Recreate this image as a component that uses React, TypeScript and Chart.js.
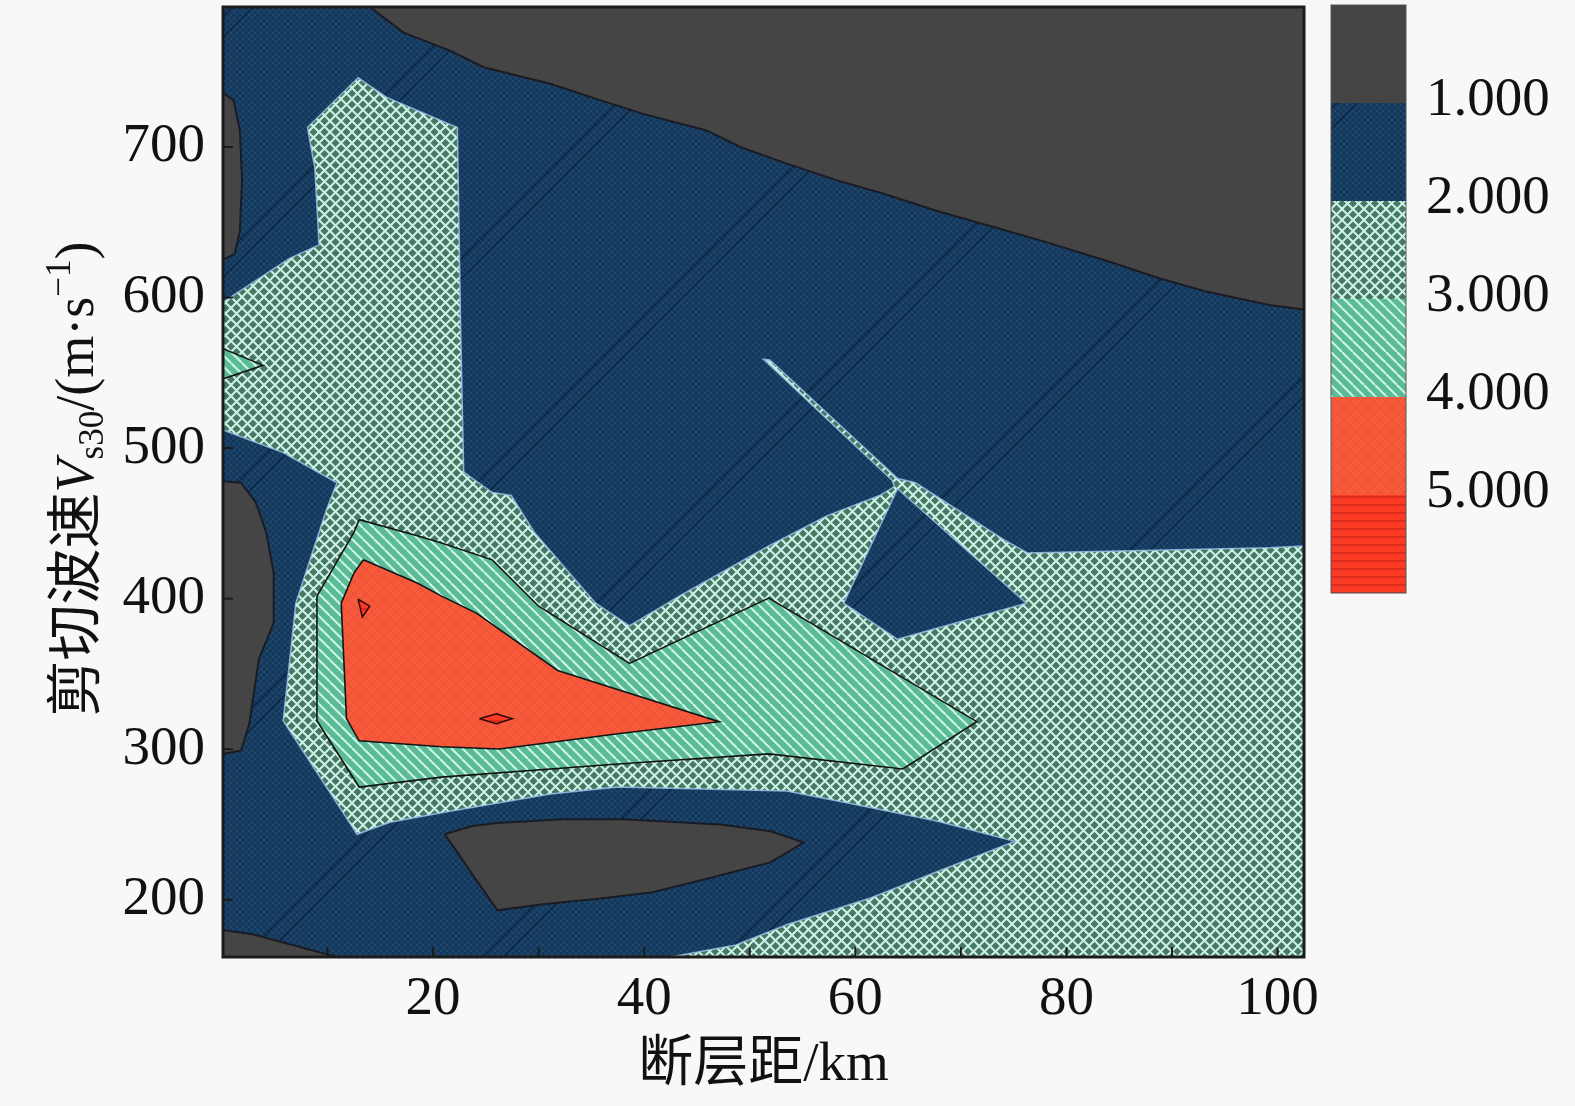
import React, { useEffect, useRef } from "react";
import { Chart, registerables } from "chart.js";

Chart.register(...registerables);

type Pt = [number, number];

// ---- axes ----
const xRange: number[] = [0.1, 102.5];
const yRange: number[] = [162, 793];
const xTickLabels: number[] = [20, 40, 60, 80, 100];
const xMinorTicks: number[] = [10, 20, 30, 40, 50, 60, 70, 80, 90, 100];
const yTickLabels: number[] = [200, 300, 400, 500, 600, 700];
const colorbarLabels: string[] = ["1.000", "2.000", "3.000", "4.000", "5.000"];
const xTitle = "断层距/km";
const yTitleParts: { t: string; k: string }[] = [
  { t: "剪切波速", k: "cjk" },
  { t: "V", k: "italic" },
  { t: "s30", k: "sub" },
  { t: "/(m·s", k: "normal" },
  { t: "−1", k: "sup" },
  { t: ")", k: "normal" },
];

// ---- contour regions (x = distance km, y = Vs30 m/s) ----
const plotFrame: Pt[] = [[0.1, 162], [0.1, 793], [102.5, 793], [102.5, 162]];
const grayTop: Pt[] = [
  [14.0, 793], [17.2, 776], [21.6, 764], [24.8, 753], [31.1, 742], [35.9, 731], [39.9, 722],
  [45.9, 711], [49.1, 700], [53.5, 689], [58.2, 678], [62.7, 669], [67.5, 658], [73.5, 646],
  [78.0, 637], [84.0, 624], [88.7, 613], [93.2, 604], [99.2, 595], [102.5, 592], [102.5, 793],
];
const grayLeftTop: Pt[] = [[0.1, 736], [1.1, 731], [1.7, 711], [1.9, 678], [1.7, 644], [1.2, 629], [0.1, 625]];
const grayLeftMid: Pt[] = [
  [0.1, 478], [1.8, 477], [3.2, 464], [4.2, 444], [4.9, 417], [4.9, 384], [3.5, 360],
  [2.6, 317], [1.8, 299], [0.1, 297],
];
const grayBottomLeft: Pt[] = [[0.1, 180], [3.0, 177], [10.9, 162], [0.1, 162]];
const grayMid: Pt[] = [
  [21.1, 243.5], [23.7, 249], [26.1, 251], [32.3, 253.5], [38.0, 253.5], [47.2, 250], [52.0, 245.5],
  [55.1, 238], [52.0, 225], [46.5, 215], [40.8, 205], [36.1, 201], [30.4, 197], [26.1, 193],
  [23.7, 217], [22.3, 231.5],
];
const crossMain: Pt[] = [
  [0.1, 597], [6.4, 626], [9.2, 635], [8.8, 686], [8.1, 713], [12.9, 746], [15.6, 733], [22.3, 713],
  [22.6, 584], [22.9, 484], [25.6, 470.5], [27.4, 468.5], [29.6, 444], [35.4, 397], [38.6, 382],
  [43.4, 402], [51.8, 435], [57.3, 455], [62.3, 468.5], [63.7, 474.5], [63.5, 478.5], [51.3, 559],
  [51.9, 558.5], [64.0, 479.8], [65.7, 477], [74.1, 439], [76.3, 430.4], [99.2, 433.8], [102.5, 435],
  [102.5, 162], [42.5, 162], [48.7, 170], [53.5, 183.4], [61.5, 201.4], [67.8, 218.8], [75.1, 238.8],
  [67.8, 252.2], [59.9, 263.5], [53.5, 272.2], [37.5, 274.9], [31.1, 270.2], [21.6, 258.8],
  [15.9, 251.5], [12.8, 243.5], [9.9, 274.9], [5.8, 318.9], [7.0, 397], [9.9, 459], [10.9, 477],
  [5.8, 497], [0.1, 512],
];
const navyTriangle: Pt[] = [[64.0, 473], [58.9, 397], [64.0, 373], [76.2, 397]];
const tealMain: Pt[] = [
  [13.0, 452.5], [18.5, 441.8], [20.8, 437], [25.6, 425.8], [30.0, 395], [38.6, 357], [51.8, 400.4],
  [71.5, 318.3], [64.5, 286.9], [51.8, 296.9], [37.5, 290.2], [20.8, 281.5], [13.0, 274.9],
  [9.0, 318.9], [9.0, 401.7], [12.5, 444],
];
const tealNotch: Pt[] = [[0.1, 566], [3.9, 555], [0.1, 546]];
const orangeMain: Pt[] = [
  [13.4, 425.8], [18.5, 410.4], [20.8, 401.7], [24.1, 390.4], [31.8, 352.3], [47.1, 318.3],
  [37.5, 310.3], [26.3, 300.2], [20.8, 301.6], [13.0, 305.6], [11.8, 320.3], [11.3, 397], [12.5, 417],
];
const redSpotA: Pt[] = [[12.9, 399.7], [14.0, 395], [13.3, 387.7]];
const redSpotB: Pt[] = [[24.4, 320.3], [26.0, 323.6], [27.5, 320.3], [26.0, 317]];

// level: 0 (<1) gray, 1 navy, 2 crosshatch, 3 teal, 4 orange, 5 red
const layers: { name: string; pts: Pt[]; level: number; outline: boolean }[] = [
  { name: "frame", pts: plotFrame, level: 1, outline: false },
  { name: "cross", pts: crossMain, level: 2, outline: true },
  { name: "navyTri", pts: navyTriangle, level: 1, outline: true },
  { name: "grayTop", pts: grayTop, level: 0, outline: true },
  { name: "grayLeftTop", pts: grayLeftTop, level: 0, outline: true },
  { name: "grayLeftMid", pts: grayLeftMid, level: 0, outline: true },
  { name: "grayBottomLeft", pts: grayBottomLeft, level: 0, outline: true },
  { name: "grayMid", pts: grayMid, level: 0, outline: true },
  { name: "teal", pts: tealMain, level: 3, outline: true },
  { name: "tealNotch", pts: tealNotch, level: 3, outline: true },
  { name: "orange", pts: orangeMain, level: 4, outline: true },
  { name: "redA", pts: redSpotA, level: 5, outline: true },
  { name: "redB", pts: redSpotB, level: 5, outline: true },
];

function makePattern(size: number, draw: (g: CanvasRenderingContext2D, s: number) => void): CanvasPattern {
  const c = document.createElement("canvas");
  c.width = size;
  c.height = size;
  const g = c.getContext("2d")!;
  draw(g, size);
  return g.createPattern(c, "repeat")!;
}

function diagLines(g: CanvasRenderingContext2D, s: number, step: number, dir: number) {
  for (let c = -2 * s; c <= 3 * s; c += step) {
    g.beginPath();
    if (dir > 0) {
      g.moveTo(c, 0);
      g.lineTo(c - s, s);
    } else {
      g.moveTo(c, 0);
      g.lineTo(c + s, s);
    }
    g.stroke();
  }
}

function buildStyles() {
  const gray = "#454545";
  const navy = makePattern(240, (g, s) => {
    g.fillStyle = "#13385b";
    g.fillRect(0, 0, s, s);
    g.strokeStyle = "rgba(75,120,165,0.25)";
    g.lineWidth = 1;
    diagLines(g, s, 6, 1);
    diagLines(g, s, 6, -1);
    g.strokeStyle = "#08213b";
    g.lineWidth = 1.2;
    for (const c of [-240, -220, 0, 20, 240, 260, 480, 500]) {
      g.beginPath();
      g.moveTo(c, 0);
      g.lineTo(c - s, s);
      g.stroke();
    }
  });
  const cross = makePattern(11, (g, s) => {
    g.fillStyle = "#487764";
    g.fillRect(0, 0, s, s);
    g.strokeStyle = "#cbf3e6";
    g.lineWidth = 2;
    diagLines(g, s, 11, 1);
    diagLines(g, s, 11, -1);
  });
  const teal = makePattern(11, (g, s) => {
    g.fillStyle = "#5cbb97";
    g.fillRect(0, 0, s, s);
    g.strokeStyle = "#cdf6e7";
    g.lineWidth = 2;
    diagLines(g, s, 11, -1);
  });
  const orange = makePattern(12, (g, s) => {
    g.fillStyle = "#f65a3b";
    g.fillRect(0, 0, s, s);
    g.strokeStyle = "rgba(220,65,40,0.45)";
    g.lineWidth = 1;
    diagLines(g, s, 12, 1);
    diagLines(g, s, 12, -1);
  });
  const red = makePattern(8, (g, s) => {
    g.fillStyle = "#fb3a26";
    g.fillRect(0, 0, s, s);
    g.strokeStyle = "#d4281a";
    g.lineWidth = 1.5;
    g.beginPath();
    g.moveTo(0, 1);
    g.lineTo(s, 1);
    g.stroke();
  });
  return [
    { fill: gray, stroke: "#1b1b24", width: 2 },
    { fill: navy, stroke: "rgba(150,195,230,0.85)", width: 1.5 },
    { fill: cross, stroke: "rgba(150,195,230,0.85)", width: 1.5 },
    { fill: teal, stroke: "#141414", width: 1.6 },
    { fill: orange, stroke: "#141414", width: 1.6 },
    { fill: red, stroke: "#2a0808", width: 1.5 },
  ];
}

export default function App() {
  const ref = useRef<HTMLCanvasElement>(null);

  useEffect(() => {
    document.body.style.margin = "0";
    document.body.style.background = "#f8f8f8";
    document.body.style.overflow = "hidden";
    const canvas = ref.current!;
    const styles = buildStyles();

    const datasets = layers.map((L, i) => {
      const st = styles[L.level];
      const pts = L.pts.concat([L.pts[0]]).map(([x, y]) => ({ x, y }));
      return {
        label: L.name,
        data: pts,
        showLine: true,
        fill: "shape",
        backgroundColor: st.fill,
        borderColor: L.outline ? st.stroke : "rgba(0,0,0,0)",
        borderWidth: L.outline ? st.width : 0,
        pointRadius: 0,
        pointHoverRadius: 0,
        tension: 0,
        order: layers.length - i,
      };
    });

    const serif = '"Liberation Serif", "Times New Roman", serif';

    const decor = {
      id: "decor",
      afterDraw(chart: any) {
        const { ctx, chartArea: a, scales } = chart;
        const xs = scales.x;
        const ys = scales.y;
        ctx.save();
        ctx.strokeStyle = "#1a1a1a";
        ctx.lineWidth = 2;
        for (const v of xMinorTicks) {
          const px = xs.getPixelForValue(v);
          ctx.beginPath();
          ctx.moveTo(px, a.bottom);
          ctx.lineTo(px, a.bottom - 10);
          ctx.stroke();
        }
        for (const v of yTickLabels) {
          const py = ys.getPixelForValue(v);
          ctx.beginPath();
          ctx.moveTo(a.left, py);
          ctx.lineTo(a.left + 10, py);
          ctx.stroke();
        }
        ctx.lineWidth = 3;
        ctx.strokeStyle = "#1c1c1c";
        ctx.strokeRect(a.left, a.top, a.right - a.left, a.bottom - a.top);

        // colorbar
        const cbL = a.right + 27;
        const cbW = 75;
        const cbTop = 5;
        const cbBot = 593;
        const n = styles.length;
        const segH = (cbBot - cbTop) / n;
        for (let i = 0; i < n; i++) {
          ctx.fillStyle = styles[i].fill;
          ctx.fillRect(cbL, cbTop + i * segH, cbW, segH);
        }
        ctx.strokeStyle = "#555";
        ctx.lineWidth = 1;
        ctx.strokeRect(cbL, cbTop, cbW, cbBot - cbTop);
        ctx.fillStyle = "#111";
        ctx.font = "55px " + serif;
        ctx.textAlign = "left";
        ctx.textBaseline = "middle";
        colorbarLabels.forEach((lab, i) => {
          ctx.fillText(lab, 1426, cbTop + (i + 1) * segH - 2);
        });

        // x title
        ctx.font = '55px "Liberation Serif", "Noto Sans CJK SC", serif';
        ctx.textAlign = "center";
        ctx.textBaseline = "middle";
        ctx.fillText(xTitle, (a.left + a.right) / 2, 1066);

        // y title
        const fonts: Record<string, string> = {
          cjk: '56px "Noto Sans CJK SC", sans-serif',
          italic: "italic 54px " + serif,
          normal: "54px " + serif,
          sub: "35px " + serif,
          sup: "35px " + serif,
        };
        const shift: Record<string, number> = { cjk: 1, italic: 0, normal: 0, sub: 10, sup: -23 };
        let total = 0;
        const widths = yTitleParts.map((p) => {
          ctx.font = fonts[p.k];
          const w = ctx.measureText(p.t).width;
          total += w;
          return w;
        });
        ctx.translate(74, 479);
        ctx.rotate(-Math.PI / 2);
        ctx.textAlign = "left";
        ctx.textBaseline = "alphabetic";
        let cx = -total / 2;
        yTitleParts.forEach((p, i) => {
          ctx.font = fonts[p.k];
          ctx.fillText(p.t, cx, 19 + shift[p.k]);
          cx += widths[i];
        });
        ctx.restore();
      },
    };

    const chart = new Chart(canvas, {
      type: "scatter",
      data: { datasets: datasets as any },
      options: {
        animation: false,
        responsive: false,
        devicePixelRatio: 1,
        events: [],
        layout: { padding: { left: 0, top: 7, right: 271, bottom: 0 } },
        plugins: {
          legend: { display: false },
          tooltip: { enabled: false },
        },
        scales: {
          x: {
            type: "linear",
            min: xRange[0],
            max: xRange[1],
            afterBuildTicks: (s: any) => {
              s.ticks = xTickLabels.map((v) => ({ value: v }));
            },
            afterFit: (s: any) => {
              s.height = 149;
              s.paddingLeft = 0;
              s.paddingRight = 0;
              s.paddingTop = 0;
              s.paddingBottom = 0;
            },
            grid: { display: false, drawTicks: false },
            border: { display: false },
            ticks: {
              font: { family: "Liberation Serif", size: 55 },
              color: "#111",
              padding: 10,
              maxRotation: 0,
              autoSkip: false,
            },
          },
          y: {
            type: "linear",
            min: yRange[0],
            max: yRange[1],
            afterBuildTicks: (s: any) => {
              s.ticks = yTickLabels.map((v) => ({ value: v }));
            },
            afterFit: (s: any) => {
              s.width = 223;
              s.paddingLeft = 0;
              s.paddingRight = 0;
              s.paddingTop = 0;
              s.paddingBottom = 0;
            },
            grid: { display: false, drawTicks: false },
            border: { display: false },
            ticks: {
              font: { family: "Liberation Serif", size: 55 },
              color: "#111",
              padding: 18,
              autoSkip: false,
            },
          },
        },
      } as any,
      plugins: [decor],
    });

    return () => chart.destroy();
  }, []);

  return (
    <div style={{ width: 1575, height: 1106 }}>
      <canvas ref={ref} width={1575} height={1106} style={{ display: "block", width: 1575, height: 1106 }} />
    </div>
  );
}
